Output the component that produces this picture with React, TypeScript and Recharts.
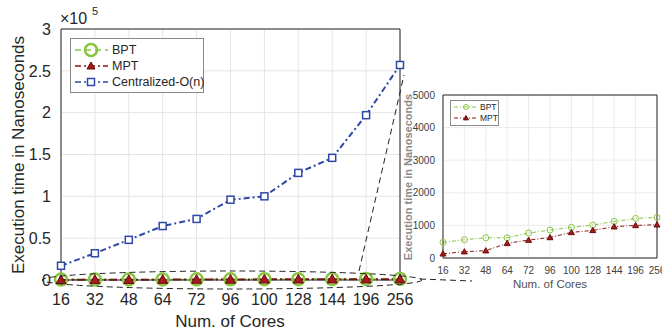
import { LineChart, Line, XAxis, YAxis, CartesianGrid, ReferenceLine } from "recharts";

const cores = ["16", "32", "48", "64", "72", "96", "100", "128", "144", "196", "256"];
const bpt = [480, 560, 620, 620, 765, 857, 940, 1010, 1120, 1214, 1245];
const mpt = [130, 195, 225, 450, 550, 630, 785, 847, 960, 1000, 1020];
const centralized = [17000, 32000, 48000, 64500, 73000, 96000, 100000, 128000, 146000, 197000, 257000];
const mainTicks = [0, 50000, 100000, 150000, 200000, 250000, 300000];
const insetTicks = [0, 1000, 2000, 3000, 4000, 5000];

const data = cores.map((c, i) => ({ cores: c, bpt: bpt[i], mpt: mpt[i], centralized: centralized[i] }));

const GREEN = "#88c540";
const RED = "#8c1515";
const BLUE = "#2e48a8";
const FONT = "'Liberation Sans', Arial, sans-serif";

const circleDot = (r: number, w: number) => (p: any) => (
  <circle key={`c-${p.index}`} cx={p.cx} cy={p.cy} r={r} fill="none" stroke={GREEN} strokeWidth={w} />
);
const triDot = (s: number) => (p: any) => (
  <polygon
    key={`t-${p.index}`}
    points={`${p.cx},${p.cy - s} ${p.cx - s},${p.cy + s * 0.75} ${p.cx + s},${p.cy + s * 0.75}`}
    fill="#a31b1b"
    stroke="#6e0b0b"
    strokeWidth={1}
  />
);
const sqDot = (p: any) => (
  <rect key={`s-${p.index}`} x={p.cx - 3.5} y={p.cy - 3.5} width={7} height={7} fill="#fff" stroke={BLUE} strokeWidth={1.5} />
);

function MainChart() {
  return (
    <LineChart width={420} height={332} data={data} margin={{ top: 29, right: 20, bottom: 22, left: 0 }}>
      <CartesianGrid stroke="#e4e4e4" />
      <XAxis
        dataKey="cores"
        height={30}
        stroke="#262626"
        tickLine={false}
        tickMargin={8}
        tick={{ fill: "#262626", fontSize: 16, fontFamily: FONT }}
        interval={0}
        label={{
          content: () => (
            <text x={230} y={327} textAnchor="middle" fill="#262626" fontSize={17} fontFamily={FONT}>
              Num. of Cores
            </text>
          ),
        }}
      />
      <YAxis
        width={61}
        domain={[0, 300000]}
        ticks={mainTicks}
        stroke="#262626"
        tickLine={false}
        tickMargin={4}
        tick={{ fill: "#262626", fontSize: 16, fontFamily: FONT }}
        tickFormatter={(v: number) => String(v / 100000)}
        label={{
          content: () => (
            <text
              x={24}
              y={155}
              transform="rotate(-90 24 155)"
              textAnchor="middle"
              fill="#262626"
              fontSize={17}
              fontFamily={FONT}
            >
              Execution time in Nanoseconds
            </text>
          ),
        }}
      />
      <ReferenceLine y={300000} stroke="#262626" />
      <ReferenceLine x="256" stroke="#262626" />
      <Line dataKey="centralized" stroke={BLUE} strokeWidth={2} strokeDasharray="6 3 2 3" dot={sqDot} isAnimationActive={false} />
      <Line dataKey="bpt" stroke={GREEN} strokeWidth={1.5} strokeDasharray="6 4" dot={circleDot(6, 2.5)} isAnimationActive={false} />
      <Line dataKey="mpt" stroke={RED} strokeWidth={2} strokeDasharray="8 3 2 3" dot={triDot(5)} isAnimationActive={false} />
    </LineChart>
  );
}

function InsetChart() {
  return (
    <LineChart width={262} height={215} data={data} margin={{ top: 10, right: 5, bottom: 22, left: 0 }}>
      <CartesianGrid stroke="#ececec" />
      <XAxis
        dataKey="cores"
        height={20}
        stroke="#262626"
        tickLine={false}
        tickMargin={3}
        interval={0}
        tick={{ fill: "#404040", fontSize: 10, fontFamily: FONT }}
        label={{
          content: () => (
            <text x={150} y={203} textAnchor="middle" fill="#505050" fontSize={11.5} fontFamily={FONT}>
              Num. of Cores
            </text>
          ),
        }}
      />
      <YAxis
        width={43}
        domain={[0, 5000]}
        ticks={insetTicks}
        stroke="#262626"
        tickLine={false}
        tickMargin={2}
        tick={{ fill: "#404040", fontSize: 10, fontFamily: FONT }}
        label={{
          content: () => (
            <text
              x={8}
              y={92}
              transform="rotate(-90 8 92)"
              textAnchor="middle"
              dominantBaseline="central"
              fill="#8a8a8a"
              fontSize={11}
              fontWeight="bold"
              fontFamily={FONT}
            >
              Execution time in Nanoseconds
            </text>
          ),
        }}
      />
      <ReferenceLine y={5000} stroke="#262626" />
      <ReferenceLine x="256" stroke="#262626" />
      <Line dataKey="bpt" stroke={GREEN} strokeWidth={1} strokeDasharray="4 2 1 2" dot={circleDot(3, 1)} isAnimationActive={false} />
      <Line dataKey="mpt" stroke={RED} strokeWidth={1} strokeDasharray="4 2 1 2" dot={triDot(3)} isAnimationActive={false} />
    </LineChart>
  );
}

export default function App() {
  return (
    <div style={{ position: "absolute", left: 0, top: 0, width: 662, height: 332, background: "#fff", overflow: "hidden" }}>
      <div style={{ position: "absolute", left: 0, top: 0 }}>
        <MainChart />
      </div>
      <div style={{ position: "absolute", left: 400, top: 85 }}>
        <InsetChart />
      </div>
      <svg width={662} height={332} style={{ position: "absolute", left: 0, top: 0, pointerEvents: "none" }} fontFamily={FONT}>
        {/* exponent */}
        <text x={60} y={24} fontSize={16} fill="#262626">×10</text>
        <text x={92} y={15} fontSize={11} fill="#262626">5</text>
        {/* zoom annotation */}
        <ellipse cx={232} cy={280} rx={190} ry={9} fill="none" stroke="#222" strokeDasharray="6 4" strokeWidth={1} />
        <line x1={359} y1={271} x2={404} y2={75} stroke="#222" strokeDasharray="6 4" strokeWidth={1} />
        <line x1={420} y1={279} x2={472} y2={281} stroke="#222" strokeDasharray="6 4" strokeWidth={1} />
        {/* main legend */}
        <rect x={70.5} y={38.5} width={133} height={54} fill="#fff" stroke="#8a8a8a" />
        <line x1={75} y1={50} x2={108} y2={50} stroke={GREEN} strokeWidth={1.5} strokeDasharray="6 4" />
        {circleDot(6, 2.5)({ cx: 91, cy: 50, index: "l" })}
        <text x={112} y={54} fontSize={12.5} fill="#262626">BPT</text>
        <line x1={75} y1={66} x2={108} y2={66} stroke={RED} strokeWidth={1.5} strokeDasharray="6 3 2 3" />
        {triDot(4)({ cx: 91, cy: 66, index: "l" })}
        <text x={112} y={70} fontSize={12.5} fill="#262626">MPT</text>
        <line x1={75} y1={82} x2={108} y2={82} stroke={BLUE} strokeWidth={1.5} strokeDasharray="6 3 2 3" />
        {sqDot({ cx: 91, cy: 82, index: "l" })}
        <text x={112} y={86} fontSize={12.5} fill="#262626">Centralized-O(n)</text>
        {/* inset legend */}
        <rect x={450.5} y={100.5} width={48} height={25} fill="#fff" stroke="#8a8a8a" />
        <line x1={454} y1={107} x2={478} y2={107} stroke={GREEN} strokeWidth={1} strokeDasharray="4 2 1 2" />
        {circleDot(2.5, 1)({ cx: 466, cy: 107, index: "il" })}
        <text x={480} y={110} fontSize={8.5} fill="#262626">BPT</text>
        <line x1={454} y1={118} x2={478} y2={118} stroke={RED} strokeWidth={1} strokeDasharray="4 2 1 2" />
        {triDot(2.5)({ cx: 466, cy: 118, index: "il" })}
        <text x={480} y={121} fontSize={8.5} fill="#262626">MPT</text>
      </svg>
    </div>
  );
}
